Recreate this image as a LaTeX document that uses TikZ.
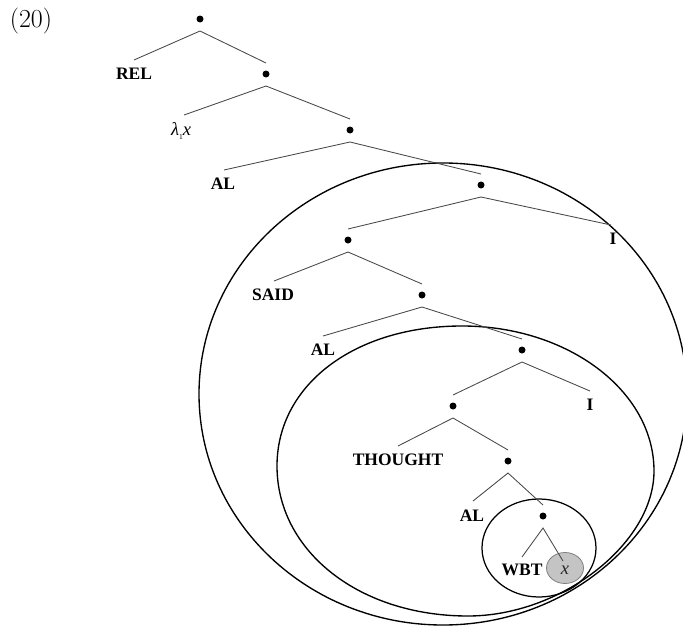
\documentclass[tikz,border=0pt]{standalone}
\usepackage{fontspec}
\usetikzlibrary{shapes.geometric}
\newfontfamily\labf{Liberation Serif}
\begin{document}
\begin{tikzpicture}[x=1pt,y=-1pt,
  dot/.style={circle,fill=black,inner sep=0pt,minimum size=7pt},
  lab/.style={inner sep=0pt,font=\labf\bfseries\fontsize{17.5}{20}\selectfont},
  branch/.style={draw=black!72,line width=0.85pt},
  ring/.style={draw=black,line width=1.35pt}]
\useasboundingbox (0,0) rectangle (683,629);

% rings
\draw[ring] (443,394) ellipse [x radius=244pt, y radius=231pt];
\draw[ring] (277,466) .. controls (277,384.8) and (354.7,326) .. (462,326)
  .. controls (568,326) and (654,390.9) .. (654,471)
  .. controls (654,543.5) and (561,616) .. (468,616)
  .. controls (359,616) and (277,551) .. cycle;
\draw[ring,line width=1.25pt] (539,548) ellipse [x radius=57pt, y radius=49pt];
\node[draw=black!50,fill=black!23,line width=0.8pt,ellipse,minimum width=37pt,minimum height=31pt,inner sep=0pt] (xe) at (565,568) {};

% label
\node[inner sep=0pt,font=\fontsize{26}{28}\selectfont] (num) at (31,21.5) {(20)};

% dots
\node[dot] (d1) at (200,19) {};
\node[dot] (d2) at (266,74) {};
\node[dot] (d3) at (350,130) {};
\node[dot] (d4) at (481,185) {};
\node[dot] (d5) at (348,240) {};
\node[dot] (d6) at (422,295) {};
\node[dot] (d7) at (522,350) {};
\node[dot] (d8) at (453,406) {};
\node[dot] (d9) at (508,461) {};
\node[dot] (d10) at (543,516) {};

% leaves
\node[lab] (rel) at (134,74) {REL};
\node[inner sep=0pt,font=\labf\itshape\fontsize{18.5}{20}\selectfont] (lam) at (181,131) {λ\raisebox{-0.45ex}{\upshape\fontsize{7.5}{8}\selectfont 1}x};
\node[lab] (al1) at (223,184) {AL};
\node[lab] (i1) at (613,239) {I};
\node[lab] (said) at (273,295) {SAID};
\node[lab] (al2) at (323,350) {AL};
\node[lab] (i2) at (590,405) {I};
\node[lab] (thought) at (398,460) {THOUGHT};
\node[lab] (al3) at (472,516) {AL};
\node[lab] (wbt) at (522,570) {WBT};
\node[inner sep=0pt,font=\labf\itshape\fontsize{18.5}{20}\selectfont,text=black!85] (xv) at (565,570) {x};

% attachment points
\foreach \n/\xx/\yy in {d1/200/19,d2/266/74,d3/350/130,d4/481/185,d5/348/240,d6/422/295,d7/522/350,d8/453/406,d9/508/461,d10/543/516}{
  \coordinate (\n b) at (\xx,\yy+12);
  \coordinate (\n t) at (\xx,\yy-11);
}
\coordinate (relt) at (134,60);
\coordinate (lamt) at (184,115);
\coordinate (al1t) at (224,170);
\coordinate (i1t) at (611,225);
\coordinate (saidt) at (274,281);
\coordinate (al2t) at (323,336);
\coordinate (i2t) at (590,391);
\coordinate (thoughtt) at (398,446);
\coordinate (al3t) at (473,501);
\coordinate (wbtt) at (522,557);
\coordinate (xvt) at (563,561);

% branches
\draw[branch] (relt) -- (d1b) -- (d2t);
\draw[branch] (lamt) -- (d2b) -- (d3t);
\draw[branch] (al1t) -- (d3b) -- (d4t);
\draw[branch] (d5t) -- (d4b) -- (i1t);
\draw[branch] (saidt) -- (d5b) -- (d6t);
\draw[branch] (al2t) -- (d6b) -- (d7t);
\draw[branch] (d8t) -- (d7b) -- (i2t);
\draw[branch] (thoughtt) -- (d8b) -- (d9t);
\draw[branch] (al3t) -- (d9b) -- (d10t);
\draw[branch] (wbtt) -- (d10b) -- (xvt);
\end{tikzpicture}
\end{document}
